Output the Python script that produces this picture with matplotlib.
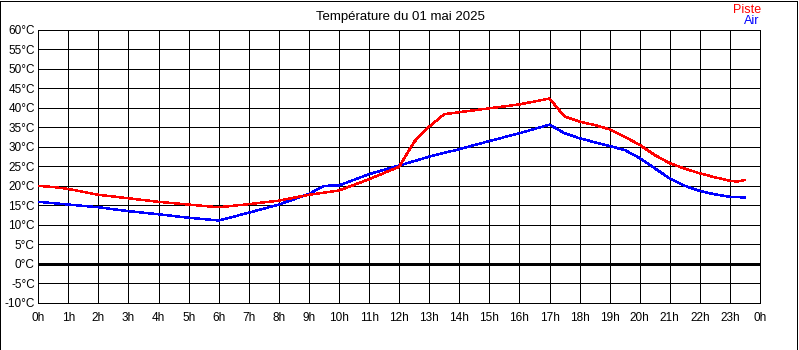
import matplotlib
matplotlib.use("Agg")
import matplotlib.pyplot as plt
from matplotlib.patches import Rectangle

plt.rcParams['font.family'] = ['Liberation Sans', 'DejaVu Sans']

# Track temperature (Piste)
piste_hours = [0, 0.5, 1, 2, 3, 4, 5, 6, 7, 8, 9, 10, 11, 12, 12.5, 13, 13.5, 14,
               15, 16, 17, 17.5, 18, 18.5, 19, 19.5, 20, 20.5, 21, 21.5, 22, 22.5,
               23, 23.25, 23.5]
piste_temp = [20.0, 19.7, 19.2, 17.7, 16.8, 15.9, 15.2, 14.5, 15.3, 16.2, 17.7, 18.8,
              21.7, 24.9, 31.3, 35.2, 38.4, 38.9, 39.9, 40.9, 42.4, 37.8, 36.5, 35.6,
              34.5, 32.6, 30.5, 27.9, 25.8, 24.4, 23.2, 22.2, 21.3, 21.1, 21.5]

# Air temperature
air_hours = [0, 1, 2, 3, 4, 5, 6, 7, 8, 9, 9.5, 10, 11, 12, 13, 14, 15, 16, 17,
             17.5, 18, 19, 19.5, 20, 20.5, 21, 21.5, 22, 22.5, 23, 23.5]
air_temp = [15.9, 15.2, 14.5, 13.5, 12.7, 11.8, 11.1, 13.1, 15.2, 17.9, 20.0, 20.1,
            23.0, 25.2, 27.5, 29.4, 31.5, 33.5, 35.7, 33.5, 32.2, 30.2, 29.2, 27.1,
            24.5, 21.9, 20.0, 18.7, 17.8, 17.2, 17.0]

x_ticks = list(range(0, 25))
x_labels = [f"{h % 24}h" for h in x_ticks]
y_ticks = list(range(-10, 61, 5))
y_labels = [f"{v}°C" for v in y_ticks]

fig = plt.figure(figsize=(7.99, 3.5), dpi=100)
fig.patch.set_facecolor('white')
fig.patches.append(Rectangle((0.0006, 0.0014), 0.9975, 0.9957, transform=fig.transFigure,
                             fill=False, edgecolor='black', linewidth=0.7,
                             antialiased=False))

ax = fig.add_axes([0.0479, 0.1351, 0.9033, 0.7792])
ax.set_xlim(0, 24)
ax.set_ylim(-10, 60)

# grid
for h in x_ticks:
    ax.axvline(h, color='black', lw=0.6, antialiased=False, zorder=1)
for v in y_ticks:
    ax.axhline(v, color='black', lw=0.6, antialiased=False, zorder=1)
ax.axhline(0, color='black', lw=2.0, antialiased=False, zorder=2)

ax.plot(air_hours, air_temp, color='#0000ff', lw=1.05, antialiased=False, zorder=3)
ax.plot(piste_hours, piste_temp, color='#ff0000', lw=1.05, antialiased=False, zorder=4)

ax.set_xticks(x_ticks)
ax.set_xticklabels(x_labels, fontsize=8.5)
ax.set_yticks(y_ticks)
ax.set_yticklabels(y_labels, fontsize=8.5)
ax.tick_params(axis='both', length=0, colors='black')
ax.tick_params(axis='x', pad=6.5)
ax.tick_params(axis='y', pad=2.5)
for s in ax.spines.values():
    s.set_color('black')
    s.set_linewidth(0.6)
    s.set_antialiased(False)

fig.text(0.5006, 0.951, "Température du 01 mai 2025", ha='center', va='center',
         fontsize=9.5, color='black')
fig.text(0.953, 0.971, "Piste", ha='right', va='center', fontsize=9, color='#ff0000')
fig.text(0.950, 0.940, "Air", ha='right', va='center', fontsize=9, color='#0000ff')

fig.savefig("out.png", dpi=100, facecolor='white')
